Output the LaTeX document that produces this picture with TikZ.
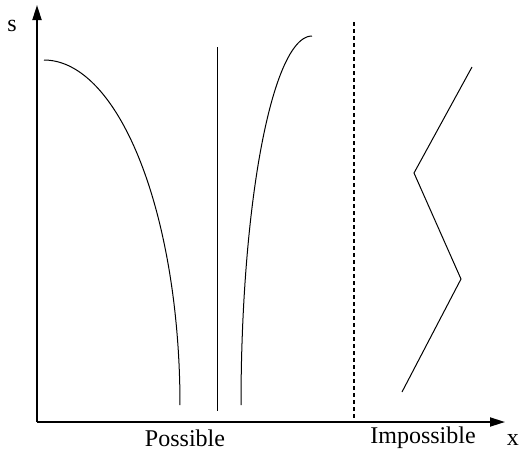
\documentclass[tikz,border=0pt]{standalone}
\usepackage{fontspec}
\setmainfont{Liberation Serif}
\usetikzlibrary{arrows.meta}

\begin{document}
\begin{tikzpicture}[x=0.5pt,y=-0.5pt,
    axis/.style={line width=0.9pt,-{Triangle[length=7.5pt,width=4.5pt]}},
    curve/.style={line width=0.5pt},
    lbl/.style={font=\fontsize{12}{14}\selectfont,inner sep=0pt}]
  \useasboundingbox (0,0) rectangle (521,452);
  % axes
  \coordinate (O) at (37,422);
  \coordinate (stop) at (37,5);
  \coordinate (xend) at (505,422);
  \draw[axis] (O) -- (stop);
  \draw[axis] (O) -- (xend);
  \node[lbl] (slabel) at (12,26) {s};
  \node[lbl] (xlabel) at (513,440) {x};
  % possible side
  \draw[curve] plot[domain=90:0,samples=80] ({44+136*cos(\x)},{405-345*sin(\x)});
  \draw[curve] (217,47) -- (217,411);
  \draw[curve] plot[domain=0:90,samples=80] ({312-71*cos(\x)},{405-369*sin(\x)});
  % border
  \draw[line width=0.65pt,dash pattern=on 2pt off 1.5pt] (354,22) -- (354,422);
  % impossible side
  \draw[curve] (472,67) -- (414,173) -- (461,279) -- (402,392);
  \node[lbl] (possible) at (185,438) {Possible};
  \node[lbl] (impossible) at (423,438) {Impossible};
\end{tikzpicture}
\end{document}
